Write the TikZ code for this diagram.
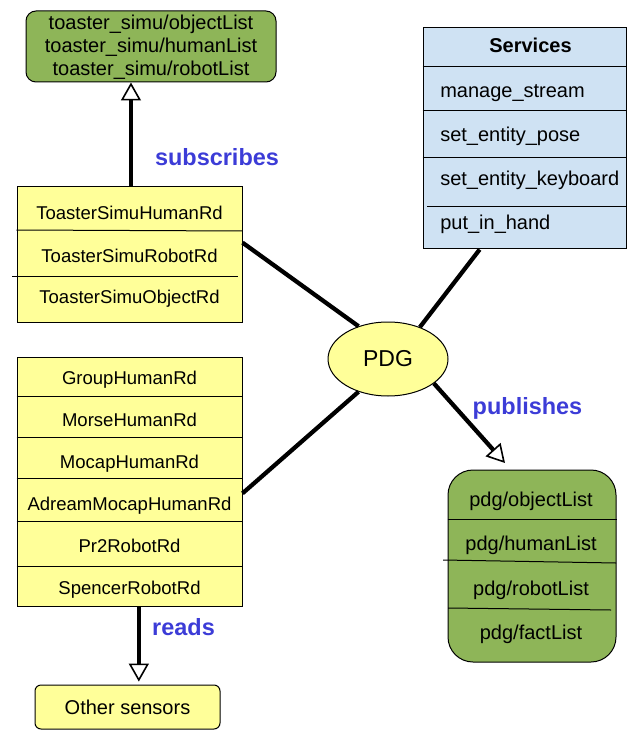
\documentclass[tikz,border=0pt]{standalone}
\usepackage{fontspec}
\setmainfont{Liberation Sans}
\usetikzlibrary{arrows.meta,calc,shapes.geometric}
\definecolor{boxyellow}{RGB}{255,255,153}
\definecolor{boxgreen}{RGB}{142,181,88}
\definecolor{boxblue}{RGB}{207,226,243}
\definecolor{lblblue}{RGB}{60,60,215}
\tikzset{
 frame/.style={draw=black, line width=0.75pt, inner sep=0pt},
 txt/.style={inner sep=0pt, text height=0.72em, text depth=0pt, yshift=-2.2pt},
 listtxt/.style={txt, font=\fontsize{13.9}{16}\selectfont},
 bigtxt/.style={txt, font=\fontsize{15}{18}\selectfont},
 lbl/.style={txt, font=\fontsize{17.6}{20}\selectfont\bfseries, text=lblblue},
 conn/.style={line width=3.2pt, black},
 arr/.style={conn, -{Triangle[fill=white, length=13.5pt, width=15pt, line width=1.2pt]}},
 divider/.style={line width=0.75pt}
}
\begin{document}
\begin{tikzpicture}[x=0.75pt,y=-0.75pt]
\useasboundingbox (0,0) rectangle (642,741);

% subscribed topics
\node[frame, fill=boxgreen, rounded corners=7.5pt, minimum width=187.5pt, minimum height=53.25pt] (topics) at (151,46.5) {};
\node[align=center, font=\fontsize{15}{17.25}\selectfont, inner sep=0pt] (topicstxt) at (151,47.5) {toaster\_simu/objectList\\toaster\_simu/humanList\\toaster\_simu/robotList};

% toaster readers
\node[frame, fill=boxyellow, minimum width=168.75pt, minimum height=101.25pt] (tbox) at (129.5,254.5) {};
\draw[divider] (tbox.west |- 0,230) -- (tbox.east |- 0,231);
\draw[divider] (12,276) -- (238,276);
\node[listtxt] (t1) at (129.5,212) {ToasterSimuHumanRd};
\node[listtxt] (t2) at (129.5,255) {ToasterSimuRobotRd};
\node[listtxt] (t3) at (129.5,296) {ToasterSimuObjectRd};

% services
\node[frame, fill=boxblue, minimum width=152.25pt, minimum height=165.75pt] (srv) at (524.5,138.5) {};
\draw[divider] (srv.west |- 0,67) -- (srv.east |- 0,67);
\draw[divider] (srv.west |- 0,111) -- (srv.east |- 0,111);
\draw[divider] (srv.west |- 0,158) -- (srv.east |- 0,158);
\draw[divider] (427,207) -- (srv.east |- 0,207);
\node[txt, font=\fontsize{15}{18}\selectfont\bfseries] (srvtitle) at (530.5,45) {Services};
\node[bigtxt, anchor=west] (s1) at (440,90) {manage\_stream};
\node[bigtxt, anchor=west] (s2) at (440,134) {set\_entity\_pose};
\node[bigtxt, anchor=west] (s3) at (440,178) {set\_entity\_keyboard};
\node[bigtxt, anchor=west] (s4) at (440,222) {put\_in\_hand};

% PDG
\node[frame, ellipse, fill=boxyellow, minimum width=90pt, minimum height=55.5pt, font=\fontsize{17.25}{20}\selectfont] (pdg) at (388,359) {PDG};

% published topics
\node[frame, fill=boxgreen, rounded corners=18.75pt, minimum width=126pt, minimum height=144pt] (plist) at (532,566) {};
\draw[divider] (plist.west |- 0,519) -- (plist.east |- 0,519);
\draw[divider] (443,560) -- (616,563);
\draw[divider] (448,608) -- (611,610);
\node[bigtxt] (p1) at (531,499) {pdg/objectList};
\node[bigtxt] (p2) at (531,543) {pdg/humanList};
\node[bigtxt] (p3) at (531,588) {pdg/robotList};
\node[bigtxt] (p4) at (531,632) {pdg/factList};

% readers
\node[frame, fill=boxyellow, minimum width=168.75pt, minimum height=186.75pt] (rbox) at (129.5,481.5) {};
\draw[divider] (rbox.west |- 0,396) -- (rbox.east |- 0,396);
\draw[divider] (rbox.west |- 0,437) -- (rbox.east |- 0,437);
\draw[divider] (rbox.west |- 0,478) -- (rbox.east |- 0,478);
\draw[divider] (rbox.west |- 0,521) -- (rbox.east |- 0,521);
\draw[divider] (rbox.west |- 0,566) -- (rbox.east |- 0,566);
\node[listtxt] (r1) at (129.5,377) {GroupHumanRd};
\node[listtxt] (r2) at (129.5,419) {MorseHumanRd};
\node[listtxt] (r3) at (129.5,461) {MocapHumanRd};
\node[listtxt] (r4) at (129.5,503) {AdreamMocapHumanRd};
\node[listtxt] (r5) at (129.5,545) {Pr2RobotRd};
\node[listtxt] (r6) at (129.5,587) {SpencerRobotRd};

% other sensors
\node[frame, fill=boxyellow, rounded corners=4.5pt, minimum width=138.75pt, minimum height=33pt] (other) at (127.5,707) {};
\node[bigtxt] (othertxt) at (127.5,707) {Other sensors};

% connectors
\draw[conn] (tbox.6) -- (pdg.132);
\draw[conn] (srv.248) -- (pdg.45);
\draw[conn] (rbox.354) -- (pdg.228);
\coordinate (pubtip) at (505,463);
\draw[arr] (pdg.332) -- (pubtip);
\draw[arr] ([xshift=1.1pt]tbox.north) -- ([xshift=1.1pt]tbox.north |- topics.south);
\draw[arr, shorten >=2.2pt] ([xshift=7pt]rbox.south) -- ([xshift=7pt]rbox.south |- other.north);

% labels
\node[lbl] (lsub) at (217,158) {subscribes};
\node[lbl] (lpub) at (527.5,407) {publishes};
\node[lbl] (lread) at (183.5,628) {reads};
\end{tikzpicture}
\end{document}
